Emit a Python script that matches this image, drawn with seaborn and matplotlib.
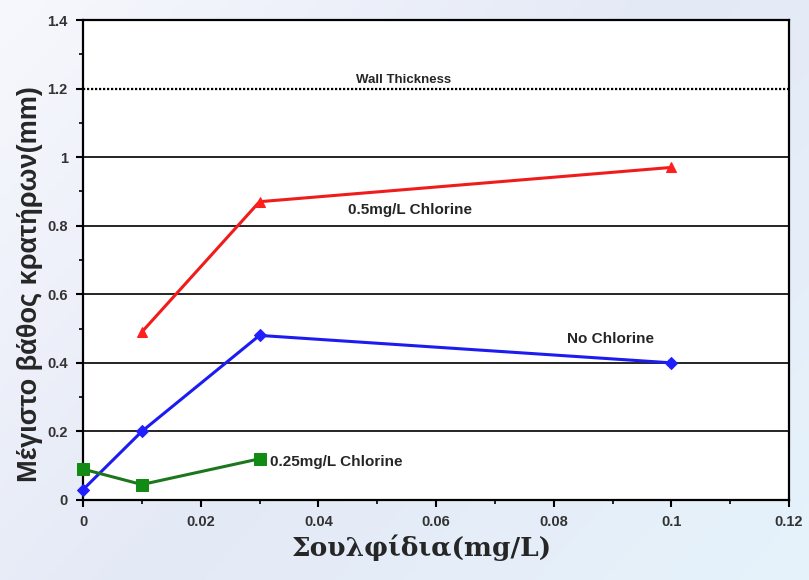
import numpy as np
import pandas as pd
import matplotlib
matplotlib.use("Agg")
import matplotlib.pyplot as plt
import seaborn as sns
from matplotlib.ticker import MultipleLocator, FuncFormatter

# Sulfide concentration (mg/L) and maximum pit depth (mm) per chlorine level
x_chlorine_05 = [0.01, 0.03, 0.1]
y_chlorine_05 = [0.49, 0.87, 0.97]

x_no_chlorine = [0.0, 0.01, 0.03, 0.1]
y_no_chlorine = [0.03, 0.20, 0.48, 0.40]

x_chlorine_025 = [0.0, 0.01, 0.03]
y_chlorine_025 = [0.09, 0.045, 0.12]

series_names = ["0.5mg/L Chlorine", "No Chlorine", "0.25mg/L Chlorine"]
wall_thickness = 1.2

df = pd.concat([
    pd.DataFrame({"x": x_chlorine_05, "y": y_chlorine_05, "series": series_names[0]}),
    pd.DataFrame({"x": x_no_chlorine, "y": y_no_chlorine, "series": series_names[1]}),
    pd.DataFrame({"x": x_chlorine_025, "y": y_chlorine_025, "series": series_names[2]}),
])

sns.set_style("white")
plt.rcParams["font.family"] = ["Liberation Sans", "DejaVu Sans"]

fig = plt.figure(figsize=(8.09, 5.80), dpi=100)

# soft bluish backdrop behind the plot
bg = fig.add_axes([0, 0, 1, 1], zorder=-10)
gx, gy = np.meshgrid(np.linspace(0, 1, 200), np.linspace(0, 1, 200))
grad = 0.6 * gx + 0.4 * (1 - gy)
cmap = matplotlib.colors.LinearSegmentedColormap.from_list(
    "bg", ["#f7f8fd", "#e4e9f6", "#e6f3fb"])
bg.imshow(grad, cmap=cmap, aspect="auto", extent=[0, 1, 0, 1], origin="lower")
bg.axis("off")

ax = fig.add_axes([0.1026, 0.138, 0.8727, 0.8275])
ax.set_facecolor("white")

palette = {series_names[0]: "#ff1f1f", series_names[1]: "#1f1fff", series_names[2]: "#138a13"}
line_colors = {series_names[0]: "#f01c1c", series_names[1]: "#1c1cf0", series_names[2]: "#1d761d"}
markers = {series_names[0]: "^", series_names[1]: "D", series_names[2]: "s"}
sizes = {series_names[0]: 7, series_names[1]: 6, series_names[2]: 8}

for name in series_names:
    sub = df[df["series"] == name]
    sns.lineplot(data=sub, x="x", y="y", ax=ax, color=line_colors[name],
                 marker=markers[name], markersize=sizes[name],
                 markerfacecolor=palette[name], markeredgecolor=palette[name],
                 linewidth=2.2, legend=False, zorder=5, clip_on=False)

ax.set_xlim(0, 0.12)
ax.set_ylim(0, 1.4)

# horizontal grid lines, with the wall thickness drawn dotted
for yv in np.arange(0.2, 1.41, 0.2):
    if abs(yv - wall_thickness) < 1e-9:
        continue
    ax.axhline(yv, color="black", lw=1.2, zorder=1)
ax.axhline(wall_thickness, color="black", lw=1.6, ls=(0, (1, 0.8)), zorder=1)

ax.xaxis.set_major_locator(MultipleLocator(0.02))
ax.xaxis.set_minor_locator(MultipleLocator(0.01))
ax.yaxis.set_major_locator(MultipleLocator(0.2))
ax.yaxis.set_minor_locator(MultipleLocator(0.1))

fmt = FuncFormatter(lambda v, p: ("%g" % round(v, 4)))
ax.xaxis.set_major_formatter(fmt)
ax.yaxis.set_major_formatter(fmt)

ax.tick_params(axis="both", which="major", direction="out", length=5, width=1.5,
               labelsize=10.5, color="black", pad=6)
ax.tick_params(axis="both", which="minor", direction="out", length=3, width=1.2,
               color="black")
ax.tick_params(bottom=True, left=True, which="both")
for lab in ax.get_xticklabels() + ax.get_yticklabels():
    lab.set_fontweight("bold")
    lab.set_color("#333333")

for s in ax.spines.values():
    s.set_color("black")
    s.set_linewidth(1.6)

ax.set_xlabel("Σουλφίδια(mg/L)", fontsize=19, fontweight="bold",
              family=["DejaVu Serif", "Liberation Serif"], va="center")
ax.xaxis.set_label_coords(0.48, -0.1)
ax.set_ylabel("Μέγιστο βάθος κρατήρων(mm)", fontsize=19.5, fontweight="bold",
              va="center")
ax.yaxis.set_label_coords(-0.075, 0.45)

ax.text(0.0545, 1.225, "Wall Thickness", fontsize=9.5, fontweight="bold",
        ha="center", va="center")
ax.text(0.0555, 0.845, series_names[0], fontsize=11, fontweight="bold",
        ha="center", va="center")
ax.text(0.0897, 0.47, series_names[1], fontsize=11, fontweight="bold",
        ha="center", va="center")
ax.text(0.0318, 0.11, series_names[2], fontsize=11, fontweight="bold",
        ha="left", va="center")

fig.savefig("out.png", dpi=100)
